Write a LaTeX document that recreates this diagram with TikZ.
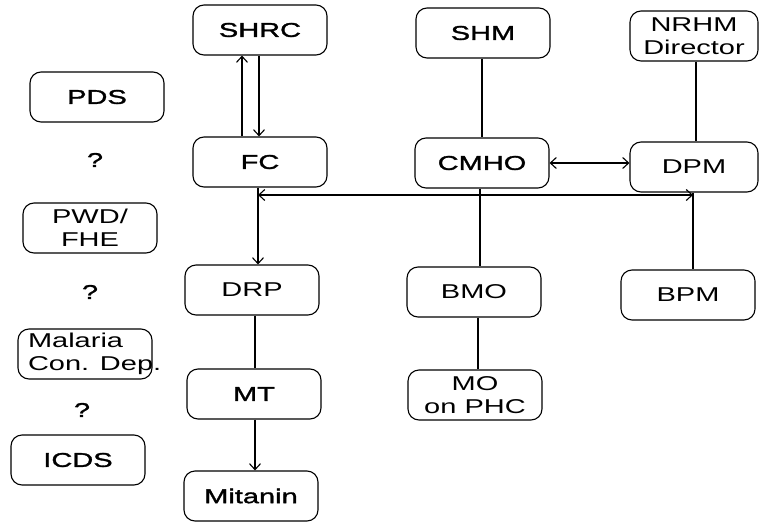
\documentclass[tikz,border=0pt]{standalone}
\usepackage{fontspec}
\setmainfont{Liberation Sans}[FakeStretch=1.45]
\usetikzlibrary{arrows.meta}
\tikzset{box/.style={draw, rounded corners=11pt, minimum width=134pt, minimum height=50pt,
                     align=center, inner sep=2pt, font=\fontsize{20}{23}\selectfont},
         heavy/.style={font=\fontsize{20}{23}\selectfont\addfontfeatures{FakeBold=1.6}},
         txt/.style={inner sep=2pt, font=\fontsize{20}{23}\selectfont},
         >={Straight Barb[length=6pt,width=11pt]}}

\begin{document}
\begin{tikzpicture}[x=1pt,y=-1pt,line width=1.1pt]
              \useasboundingbox (0,0) rectangle (759,524);

              % left column
              \node[box,heavy] (PDS) at (97,97) {PDS};
              \node[txt,heavy] (q1) at (95,160) {?};
              \node[box] (PWD) at (90,228) {PWD/\\FHE};
              \node[txt,heavy] (q2) at (90,292) {?};
              \node[box] (Malaria) at (85,354) {};
              \node[txt,align=left,anchor=west] (MalariaTxt) at ([xshift=8pt]Malaria.west) {Malaria\\Con. Dep.};
              \node[txt,heavy] (q3) at (82,410) {?};
              \node[box,heavy] (ICDS) at (78,460) {ICDS};

              % second column
              \node[box,heavy] (SHRC) at (260,30) {SHRC};
              \node[box,heavy] (FC) at (260,162) {FC};
              \node[box] (DRP) at (252,290) {DRP};
              \node[box,heavy] (MT) at (254,394) {MT};
              \node[box,heavy] (Mitanin) at (251,496) {Mitanin};

              % third column
              \node[box,heavy] (SHM) at (483,33) {SHM};
              \node[box,heavy] (CMHO) at (482,163) {CMHO};
              \node[box] (BMO) at (474,292) {BMO};
              \node[box] (MO) at (475,395) {MO\\on PHC};

              % right column
              \node[box,minimum width=128pt] (NRHM) at (694,36) {NRHM\\Director};
              \node[box,minimum width=128pt] (DPM) at (694,167) {DPM};
              \node[box] (BPM) at (688,295) {BPM};

              \coordinate (hline) at (0,195);
              \coordinate (FCleg) at ([xshift=-2pt]FC.south |- hline);
              \coordinate (DPMleg) at ([xshift=-1pt]DPM.south |- hline);

              \draw[->] ([xshift=-18pt]FC.north) -- ([xshift=-18pt]SHRC.south);
              \draw[->] ([xshift=-1pt]SHRC.south) -- ([xshift=-1pt]FC.north);
              \draw[->] ([xshift=-2pt]FC.south) -- ([xshift=-2pt]FC.south |- DRP.north);
              \draw ([xshift=3pt]DRP.south) -- ([xshift=3pt]DRP.south |- MT.north);
              \draw[->] ([xshift=1pt]MT.south) -- ([xshift=1pt]MT.south |- Mitanin.north);

              \draw (SHM.south -| CMHO) -- (CMHO.north);
              \draw ([xshift=-2pt]CMHO.south) -- ([xshift=-2pt]CMHO.south |- BMO.north);
              \draw ([xshift=4pt]BMO.south) -- ([xshift=4pt]BMO.south |- MO.north);

              \draw ([xshift=2pt]NRHM.south) -- ([xshift=2pt]NRHM.south |- DPM.north);
              \draw ([xshift=-1pt]DPM.south) -- ([xshift=-1pt]DPM.south |- BPM.north);

              \draw[<->] (CMHO.east) -- (CMHO.east -| DPM.west);
              \draw[<->] (FCleg) -- (DPMleg);
            \end{tikzpicture}
\end{document}
